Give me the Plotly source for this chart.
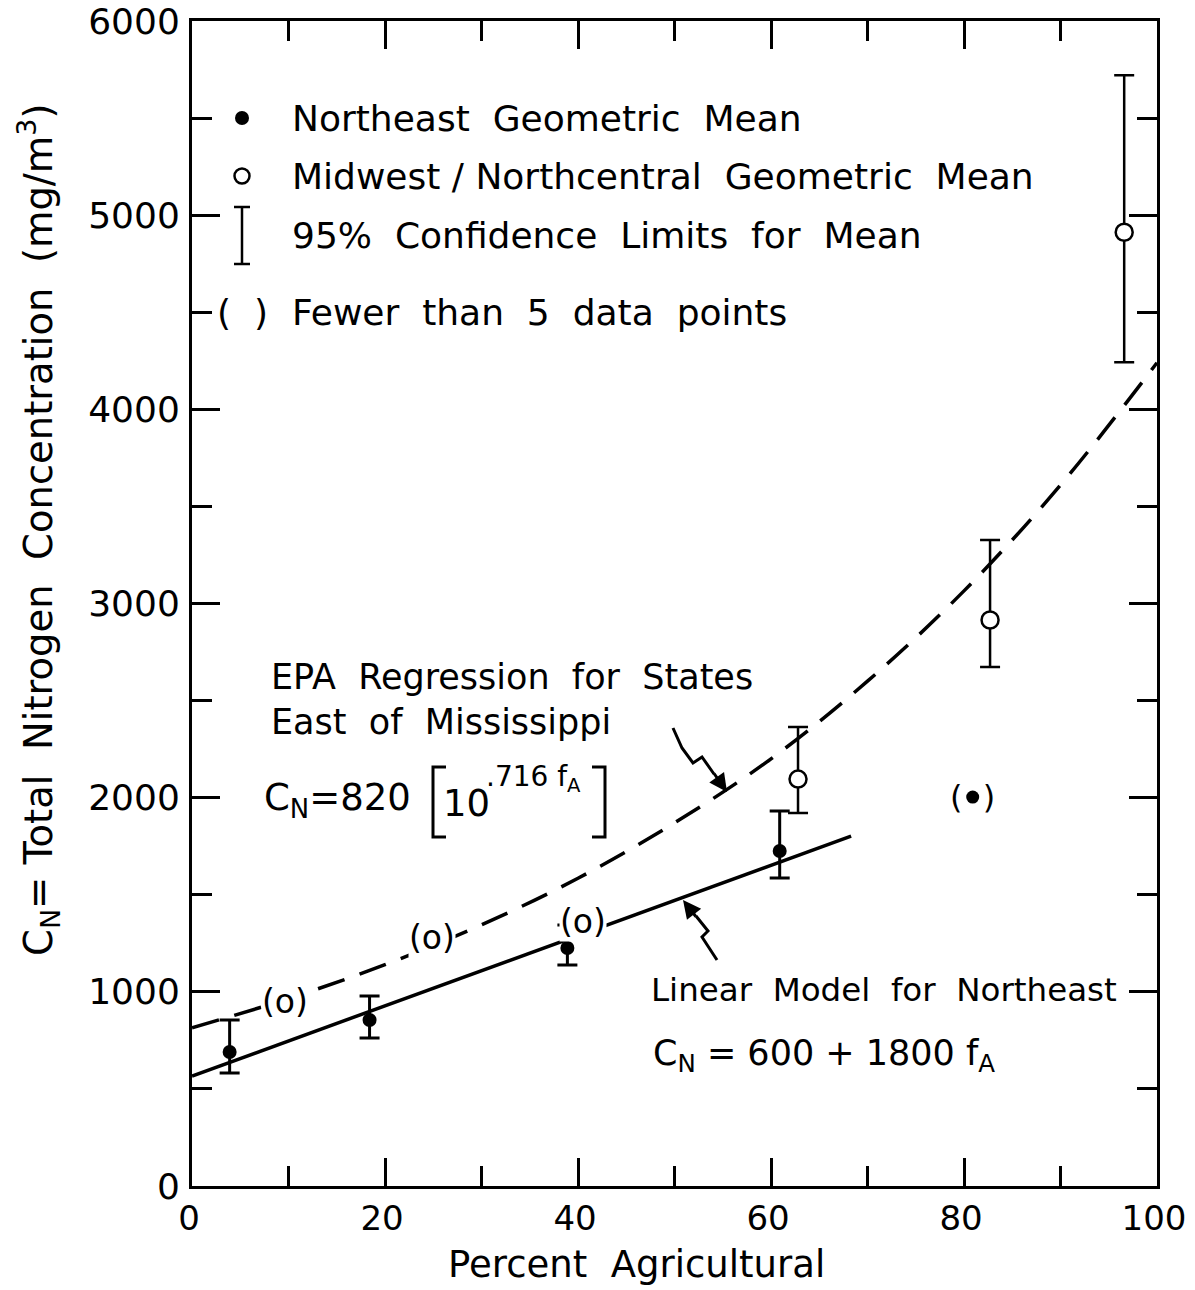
import plotly.graph_objects as go

# ---------------- data ----------------
ne_x = [3.9, 18.4, 38.9, 60.9]
ne_y = [690, 855, 1226, 1725]
ne_hi = [855, 978, 1344, 1931]
ne_lo = [582, 762, 1138, 1586]

ne_few_x = [80.9]
ne_few_y = [2003]

mw_x = [62.8, 82.7, 96.6]
mw_y = [2096, 2915, 4912]
mw_hi = [2364, 3327, 5721]
mw_lo = [1921, 2673, 4243]

mw_few_x = [9.6, 24.9, 40.5]
mw_few_y = [948, 1282, 1360]

epa_x = [0, 10, 20, 30, 40, 50, 60, 70, 80, 90, 100]
epa_y = [815, 965, 1140, 1345, 1585, 1870, 2200, 2600, 3065, 3610, 4240]

lin_x = [0, 68.3]
lin_y = [566, 1802]

x_ticks = [0, 20, 40, 60, 80, 100]
y_ticks = [0, 1000, 2000, 3000, 4000, 5000, 6000]

legend_labels = [
    "Northeast  Geometric  Mean",
    "Midwest / Northcentral  Geometric  Mean",
    "95%  Confidence  Limits  for  Mean",
    "Fewer  than  5  data  points",
]

# ---------------- layout helpers (screen pixel -> data) ----------------
OFF = 8                      # default page body margin
FW, FH = 1180, 1282          # figure size
L, R, T, B = 192, 1157, 21, 1186   # plot area in screen pixels


def dx(px):
    return (px - L) / (R - L) * 100.0


def dy(py):
    return (B - py) / (B - T) * 6000.0


def pxp(px):
    return (px - L) / (R - L)


def pyp(py):
    return (B - py) / (B - T)


FONT = "DejaVu Sans"
BLACK = "black"
PAD = 6  # annotation inner offset

fig = go.Figure()

# EPA regression (dashed)
fig.add_trace(go.Scatter(x=epa_x, y=epa_y, mode="lines", line_shape="spline",
                         line=dict(color=BLACK, width=3.5, dash="28px,16px"),
                         hoverinfo="skip", showlegend=False))
# Linear model (solid)
fig.add_trace(go.Scatter(x=lin_x, y=lin_y, mode="lines",
                         line=dict(color=BLACK, width=3.5),
                         hoverinfo="skip", showlegend=False))

# Northeast geometric means with CI
fig.add_trace(go.Scatter(
    x=ne_x, y=ne_y, mode="markers",
    marker=dict(symbol="circle", size=14, color=BLACK),
    error_y=dict(type="data", symmetric=False,
                 array=[h - v for h, v in zip(ne_hi, ne_y)],
                 arrayminus=[v - l for v, l in zip(ne_y, ne_lo)],
                 color=BLACK, thickness=3, width=10),
    showlegend=False))

# Midwest geometric means with CI
fig.add_trace(go.Scatter(
    x=mw_x, y=mw_y, mode="markers",
    marker=dict(symbol="circle", size=17, color="white",
                line=dict(color=BLACK, width=2.5)),
    error_y=dict(type="data", symmetric=False,
                 array=[h - v for h, v in zip(mw_hi, mw_y)],
                 arrayminus=[v - l for v, l in zip(mw_y, mw_lo)],
                 color=BLACK, thickness=2.5, width=10),
    showlegend=False))

# Northeast point with fewer than 5 data points
fig.add_trace(go.Scatter(
    x=ne_few_x, y=ne_few_y, mode="markers",
    marker=dict(symbol="circle", size=13, color=BLACK),
    hoverinfo="skip", showlegend=False))

annotations = []
shapes = []

# parenthesised points (fewer than 5 data points)
for xv, yv in zip(mw_few_x, mw_few_y):
    annotations.append(dict(x=xv, y=yv, xref="x", yref="y", text="(o)",
                            showarrow=False, bgcolor="white", borderpad=0,
                            font=dict(family=FONT, size=33, color=BLACK)))
for xv, yv in zip(ne_few_x, ne_few_y):
    annotations.append(dict(x=xv, y=yv, xref="x", yref="y", text="(  )",
                            showarrow=False, borderpad=0,
                            font=dict(family=FONT, size=32, color=BLACK)))

# ---------------- in-plot legend ----------------
leg_rows_px = [118, 176, 235, 312]
sym_px = 242
text_px = 296
leg_font = dict(family=FONT, size=36, color=BLACK)
for lbl, ry in zip(legend_labels, leg_rows_px):
    annotations.append(dict(x=dx(text_px - PAD), y=dy(ry), xref="x", yref="y",
                            text=lbl, showarrow=False, xanchor="left",
                            yanchor="middle", font=leg_font))
# glyphs
fig.add_trace(go.Scatter(x=[dx(sym_px)], y=[dy(leg_rows_px[0])], mode="markers",
                         marker=dict(symbol="circle", size=14, color=BLACK),
                         hoverinfo="skip", showlegend=False))
fig.add_trace(go.Scatter(x=[dx(sym_px)], y=[dy(leg_rows_px[1])], mode="markers",
                         marker=dict(symbol="circle", size=15, color="white",
                                     line=dict(color=BLACK, width=2.5)),
                         hoverinfo="skip", showlegend=False))
# confidence glyph
shapes.append(dict(type="line", xref="x", yref="y", x0=dx(sym_px), x1=dx(sym_px),
                   y0=dy(207), y1=dy(264), line=dict(color=BLACK, width=2.5)))
for cy in (207, 264):
    shapes.append(dict(type="line", xref="x", yref="y", x0=dx(sym_px - 8),
                       x1=dx(sym_px + 8), y0=dy(cy), y1=dy(cy),
                       line=dict(color=BLACK, width=2.5)))
annotations.append(dict(x=dx(sym_px), y=dy(leg_rows_px[3]), xref="x", yref="y",
                        text="(  )", showarrow=False, font=leg_font))

# ---------------- model labels ----------------
lab_font = dict(family=FONT, size=35, color=BLACK)
model_labels = [
    dict(x=dx(275 - PAD), y=dy(677), text="EPA  Regression  for  States"),
    dict(x=dx(275 - PAD), y=dy(722), text="East  of  Mississippi"),
    dict(x=dx(268 - PAD), y=dy(800), text="C<sub>N</sub>=820",
         font=dict(family=FONT, size=37, color=BLACK)),
    dict(x=dx(447 - PAD), y=dy(803), text="10",
         font=dict(family=FONT, size=37, color=BLACK)),
    dict(x=dx(490 - PAD), y=dy(778), text=".716 f<sub>A</sub>",
         font=dict(family=FONT, size=28, color=BLACK)),
    dict(x=dx(655 - PAD), y=dy(990), text="Linear  Model  for  Northeast",
         font=dict(family=FONT, size=32.5, color=BLACK)),
    dict(x=dx(657 - PAD), y=dy(1055), text="C<sub>N</sub> = 600 + 1800 f<sub>A</sub>",
         font=dict(family=FONT, size=35, color=BLACK)),
]
for a in model_labels:
    a.setdefault("xref", "x")
    a.setdefault("yref", "y")
    a.setdefault("showarrow", False)
    a.setdefault("xanchor", "left")
    a.setdefault("yanchor", "middle")
    a.setdefault("font", lab_font)
annotations += model_labels

# brackets
def bracket(x_bar, x_serif, y_top, y_bot):
    return dict(type="path", xref="x", yref="y",
                path=f"M {dx(x_serif)},{dy(y_top)} L {dx(x_bar)},{dy(y_top)} "
                     f"L {dx(x_bar)},{dy(y_bot)} L {dx(x_serif)},{dy(y_bot)}",
                line=dict(color=BLACK, width=3))

shapes.append(bracket(433, 446, 767, 837))
shapes.append(bracket(605, 592, 767, 837))

# zig-zag arrows
def zig(points):
    p = " L ".join(f"{dx(a)},{dy(b)}" for a, b in points)
    return dict(type="path", xref="x", yref="y", path="M " + p,
                line=dict(color=BLACK, width=3))

shapes.append(zig([(673, 728), (682, 748), (693, 763), (702, 757), (714, 774)]))
annotations.append(dict(x=dx(727), y=dy(792), xref="x", yref="y", ax=-14, ay=-20,
                        showarrow=True, arrowhead=2, arrowsize=1.2, arrowwidth=3,
                        arrowcolor=BLACK, text=""))
shapes.append(zig([(717, 960), (702, 937), (708, 931), (696, 916)]))
annotations.append(dict(x=dx(683), y=dy(900), xref="x", yref="y", ax=14, ay=18,
                        showarrow=True, arrowhead=2, arrowsize=1.2, arrowwidth=3,
                        arrowcolor=BLACK, text=""))

# axis titles
annotations.append(dict(x=pxp(636), y=pyp(1264), xref="paper", yref="paper",
                        text="Percent  Agricultural", showarrow=False,
                        xanchor="center", yanchor="middle",
                        font=dict(family=FONT, size=37, color=BLACK)))
annotations.append(dict(x=pxp(38), y=pyp(530), xref="paper", yref="paper",
                        text="C<sub>N</sub>= Total  Nitrogen  Concentration  (mg/m<sup>3</sup>)",
                        showarrow=False, textangle=-90,
                        xanchor="center", yanchor="middle",
                        font=dict(family=FONT, size=38.5, color=BLACK)))

fig.update_layout(
    width=FW, height=FH,
    margin=dict(l=L - OFF, r=FW - (R - OFF), t=T - OFF, b=FH - (B - OFF),
                autoexpand=False),
    paper_bgcolor="white", plot_bgcolor="white",
    showlegend=False,
    annotations=annotations,
    shapes=shapes,
    xaxis=dict(range=[0, 100], tickvals=x_ticks, ticktext=[str(v) for v in x_ticks],
               ticks="inside", ticklen=28, tickwidth=2.5, tickcolor=BLACK,
               minor=dict(dtick=10, ticks="inside", ticklen=20, tickwidth=2.5,
                          tickcolor=BLACK, showgrid=False),
               showline=True, linewidth=3, linecolor=BLACK, mirror="ticks",
               showgrid=False, zeroline=False, automargin=False,
               tickfont=dict(family=FONT, size=34, color=BLACK),
               ticklabelshift=-3, ticklabeloverflow="allow"),
    yaxis=dict(range=[0, 6000], tickvals=y_ticks, ticktext=[str(v) for v in y_ticks],
               ticks="inside", ticklen=28, tickwidth=2.5, tickcolor=BLACK,
               minor=dict(dtick=500, ticks="inside", ticklen=20, tickwidth=2.5,
                          tickcolor=BLACK, showgrid=False),
               showline=True, linewidth=3, linecolor=BLACK, mirror="ticks",
               showgrid=False, zeroline=False, automargin=False,
               tickfont=dict(family=FONT, size=36, color=BLACK),
               ticklabelstandoff=2, ticklabeloverflow="allow"),
)

fig.write_html("out.html")
